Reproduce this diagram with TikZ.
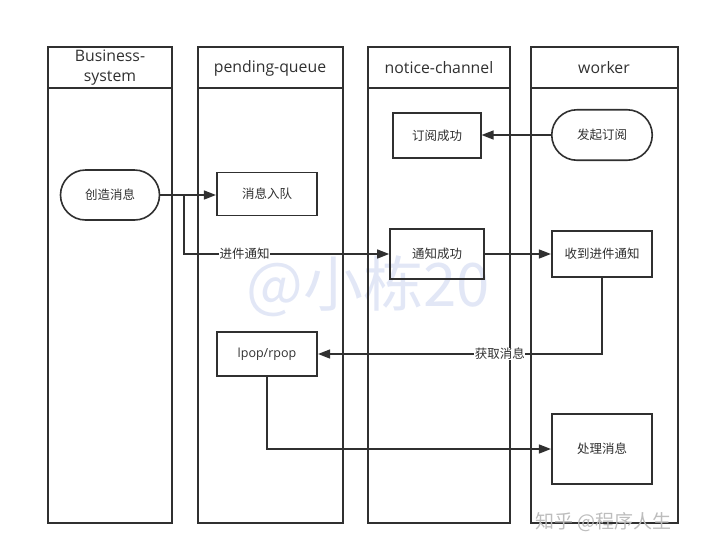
\documentclass[tikz,border=0pt]{standalone}
\usepackage{fontspec}
\setmainfont{Open Sans}
\newfontfamily\cjk{Noto Sans CJK SC}
\usetikzlibrary{arrows.meta,shapes.misc}
\definecolor{ln}{HTML}{303030}
\definecolor{wm}{HTML}{E2E7F6}
\definecolor{wm2}{HTML}{BDBDBD}
\tikzset{
  lane/.style={draw=ln,line width=1.6pt},
  box/.style={draw=ln,line width=1.6pt,minimum width=100pt,inner sep=0pt,font=\cjk\fontsize{12.5}{14}\selectfont,text=ln},
  rbox/.style={box,rounded rectangle},
  conn/.style={draw=ln,line width=1.4pt},
  arr/.style={conn,-{Triangle[length=12pt,width=9pt]}},
  lbl/.style={fill=white,inner sep=0.5pt,font=\cjk\fontsize{12.5}{14}\selectfont,text=ln},
  hdr/.style={font=\fontsize{15.8}{20}\selectfont,text=ln,align=center}
}
\begin{document}
\begin{tikzpicture}[x=1pt,y=-1pt]
\useasboundingbox (0,0) rectangle (710,555);
% watermark
\node[text=wm,font=\cjk\fontsize{60}{62}\selectfont,inner sep=0pt] (wmk) at (368,286) {@小栋20};
% lanes
\draw[lane] (48,47) rectangle (172,523);
\draw[lane] (48,88) -- (172,88);
\draw[lane] (198,47) rectangle (343,523);
\draw[lane] (198,88) -- (343,88);
\draw[lane] (368,47) rectangle (510,523);
\draw[lane] (368,88) -- (510,88);
\draw[lane] (531,47) rectangle (678,523);
\draw[lane] (531,88) -- (678,88);
\node[hdr] (h1) at (110,67.5) {Business-\\system};
\node[hdr] (h2) at (270,68) {pending-queue};
\node[hdr] (h3) at (439,68) {notice-channel};
\node[hdr] (h4) at (604,68) {worker};
% nodes
\node[rbox,minimum width=99pt,minimum height=50pt] (create) at (110,195) {创造消息};
\node[box,minimum width=100.5pt,minimum height=43pt] (enq) at (267,194) {消息入队};
\node[box,minimum width=87.5pt,minimum height=45.5pt] (subok) at (437,135.5) {订阅成功};
\node[rbox,minimum width=100.5pt,minimum height=50.5pt] (sub) at (602,135) {发起订阅};
\node[box,minimum width=94pt,minimum height=50pt] (notok) at (437,254) {通知成功};
\node[box,minimum width=100.5pt,minimum height=46pt] (recv) at (602,254) {收到进件通知};
\node[box,minimum width=100.5pt,minimum height=44.5pt,font=\fontsize{12.5}{14}\selectfont] (pop) at (267,354) {lpop/rpop};
\node[box,minimum width=100.5pt,minimum height=69.5pt] (proc) at (602,449) {处理消息};
% connectors
\draw[arr] (create.east) -- (enq.west |- create.east);
\coordinate (br) at (184,195);
\draw[arr] (br) |- (notok.west) node[lbl,pos=0.648] {进件通知};
\draw[arr] (sub.west) -- (subok.east |- sub.west);
\draw[arr] (notok.east) -- (recv.west);
\draw[arr] (recv.south) |- (pop.east) node[lbl,pos=0.68] {获取消息};
\draw[arr] (pop.south) |- (proc.west);
% bottom watermark
\node[text=wm2,font=\cjk\fontsize{19}{20}\selectfont,inner sep=0pt,anchor=west] (zh) at (535,522) {知乎 @程序人生};
\end{tikzpicture}
\end{document}
